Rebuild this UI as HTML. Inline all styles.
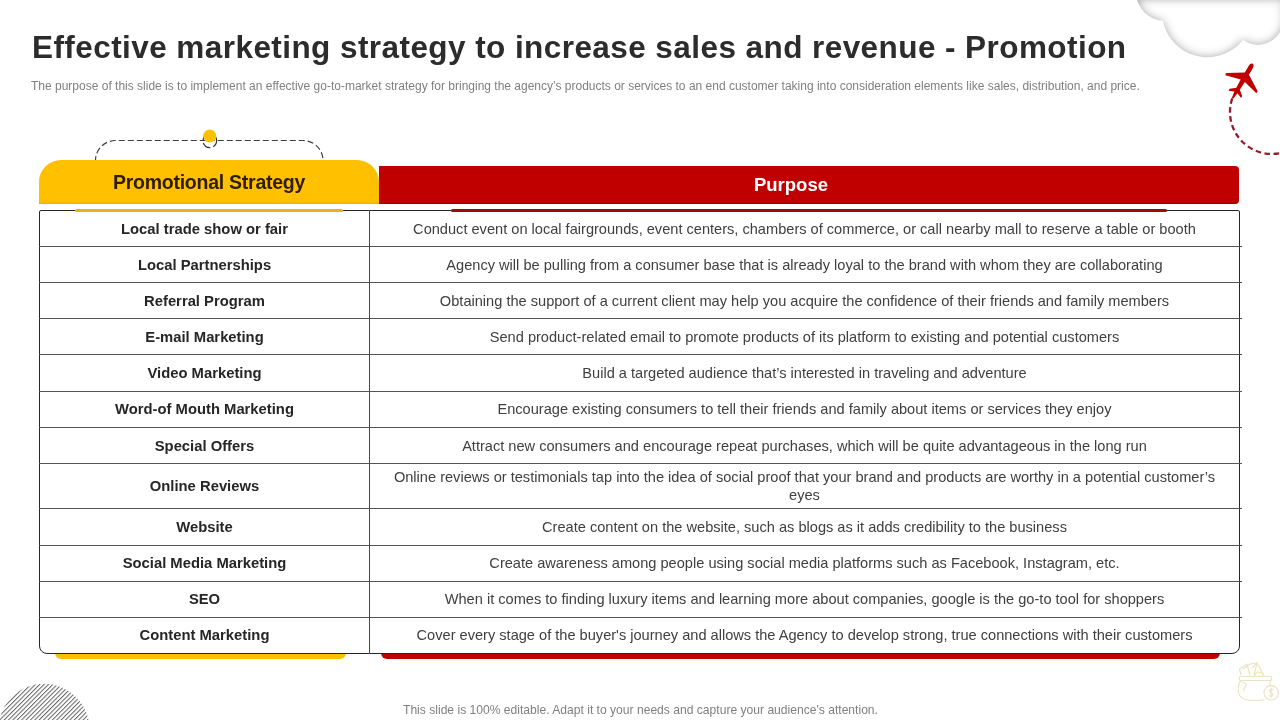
<!DOCTYPE html>
<html><head><meta charset="utf-8">
<style>
*{margin:0;padding:0;box-sizing:border-box}
html,body{width:1280px;height:720px;overflow:hidden;background:#fff}
body{position:relative;font-family:"Liberation Sans",sans-serif}
.c1,.c2,#title,#sub,#foot,#tabtxt,#redtxt{will-change:transform}
.abs{position:absolute}
#title{left:32px;top:28px;letter-spacing:0.43px;font-size:31.5px;font-weight:bold;color:#2c2c2c;white-space:nowrap;line-height:38px}
#sub{left:31px;top:79px;font-size:12px;color:#7f7f7f;white-space:nowrap;line-height:15px}
#foot{left:403px;top:703px;font-size:12.1px;color:#7f7f7f;white-space:nowrap;line-height:15px}
#tab{left:39px;top:160px;width:340px;height:44px;background:#ffc000;border-radius:22px 22px 0 0;box-shadow:inset 0 -1.5px 0 rgba(120,80,0,0.12)}
#tabtxt{left:39px;top:170px;width:340px;text-align:center;font-size:19.5px;letter-spacing:-0.25px;font-weight:bold;color:#2e1c04;line-height:24px}
#red{left:379px;top:166px;width:860px;height:38px;background:#c00000;border-radius:0 4px 4px 0;box-shadow:inset 0 -1.5px 0 rgba(60,0,0,0.2)}
#redtxt{left:379px;top:173px;width:824px;text-align:center;font-size:18.5px;font-weight:bold;color:#fff;line-height:24px}
#yl{left:75px;top:209px;width:268px;height:3px;background:#e6b422;border-radius:2px}
#rl{left:451px;top:209px;width:716px;height:3px;background:#9e0b0f;border-radius:2px}
#yb{left:55px;top:650px;width:291px;height:9px;background:#ffc000;border-radius:0 0 6px 6px}
#rb{left:381px;top:650px;width:839px;height:9px;background:#c00000;border-radius:0 0 6px 6px}
#tbl{left:39px;top:210px;width:1201px;height:444px;border:1px solid #262626;border-radius:2px 2px 8px 8px;background:#fff}
.hl{position:absolute;left:39px;width:1203px;height:1px;background:#555}
#vl{left:369px;top:210px;width:1px;height:444px;background:#4a4a4a}
.c1{position:absolute;left:40px;width:329px;text-align:center;font-size:14.8px;font-weight:bold;color:#262626;line-height:17px;margin-top:1px}
.c2{position:absolute;left:370px;width:869px;text-align:center;font-size:14.6px;color:#404040;line-height:18px;padding:0 18px}
</style></head><body>
<div id="title" class="abs">Effective marketing strategy to increase sales and revenue - Promotion</div>
<div id="sub" class="abs">The purpose of this slide is to implement an effective  go-to-market strategy for bringing the agency’s products or services to an end customer taking into consideration elements like sales, distribution, and price.</div>

<!-- cloud -->
<svg class="abs" style="left:1100px;top:0" width="180" height="70" viewBox="1100 0 180 70">
<defs>
<filter id="inner" x="-20%" y="-30%" width="140%" height="160%">
<feFlood flood-color="#959595" result="f"/>
<feComposite in="f" in2="SourceAlpha" operator="out" result="o"/>
<feGaussianBlur in="o" stdDeviation="5" result="b"/>
<feComposite in="b" in2="SourceAlpha" operator="in" result="s"/>
<feMerge><feMergeNode in="SourceGraphic"/><feMergeNode in="s"/></feMerge>
</filter>
</defs>
<clipPath id="cclip"><rect x="1100" y="-1" width="200" height="100"/></clipPath>
<g filter="url(#inner)"><g clip-path="url(#cclip)" fill="#fff">
<circle cx="1165" cy="-8" r="29"/>
<circle cx="1207.3" cy="12.2" r="45.1"/>
<ellipse cx="1258" cy="17" rx="26" ry="28"/>
<rect x="1160" y="-20" width="110" height="30"/>
<rect x="1268" y="-20" width="30" height="24"/>
</g></g>
</svg>

<!-- plane + dashed arc -->
<svg class="abs" style="left:1200px;top:50px" width="80" height="120" viewBox="0 0 80 120">
<path d="M33.3 45.6 A 42 42 0 0 0 80 103.2" fill="none" stroke="#9b1b2a" stroke-width="2.3" stroke-dasharray="5.5 3.5" stroke-dashoffset="6"/>
<g transform="translate(42.6,31) rotate(30.3)">
<path fill="#c00000" d="M0 -20 C 1.6 -20 2.4 -18 2.4 -15.5 L 2.4 -8.5 L 17.8 1 C 18.4 1.4 18.4 3.6 17.8 3.6 L 2.4 -0.3 L 2 9 L 7 13 C 7.5 13.4 7.5 15.4 7 15.4 L 1.8 13.2 L 0.9 19.5 C 0.5 20.3 -0.5 20.3 -0.9 19.5 L -1.8 13.2 L -7 15.4 C -7.5 15.4 -7.5 13.4 -7 13 L -2 9 L -2.4 -0.3 L -17.8 3.6 C -18.4 3.6 -18.4 1.4 -17.8 1 L -2.4 -8.5 L -2.4 -15.5 C -2.4 -18 -1.6 -20 0 -20 Z"/>
</g>
</svg>

<!-- dashed bracket above tab -->
<svg class="abs" style="left:80px;top:120px" width="260" height="45" viewBox="0 0 260 45">
<path d="M15.5 42 L15.5 40 A 20 20 0 0 1 35.5 20.5 L 223 20.5 A 20 20 0 0 1 243 40 L 243 42" fill="none" stroke="#404040" stroke-width="1.2" stroke-dasharray="6 3"/>
<circle cx="129.8" cy="20.8" r="6.8" fill="none" stroke="#333" stroke-width="1.2" stroke-dasharray="9 3" stroke-dashoffset="2"/>
<circle cx="129.7" cy="16" r="6.5" fill="#ffc000"/>
</svg>

<div id="tab" class="abs"></div>
<div id="red" class="abs"></div>
<div id="tabtxt" class="abs">Promotional Strategy</div>
<div id="redtxt" class="abs">Purpose</div>

<div id="yb" class="abs"></div>
<div id="rb" class="abs"></div>
<div id="tbl" class="abs"></div>
<div id="yl" class="abs"></div>
<div id="rl" class="abs"></div>

<div class="hl" style="top:246px"></div>
<div class="hl" style="top:282px"></div>
<div class="hl" style="top:318px"></div>
<div class="hl" style="top:354px"></div>
<div class="hl" style="top:391px"></div>
<div class="hl" style="top:427px"></div>
<div class="hl" style="top:463px"></div>
<div class="hl" style="top:508px"></div>
<div class="hl" style="top:545px"></div>
<div class="hl" style="top:581px"></div>
<div class="hl" style="top:617px"></div>
<div id="vl" class="abs"></div>

<div class="c1" style="top:220px">Local trade show or fair</div>
<div class="c2" style="top:220px">Conduct event on local fairgrounds, event centers, chambers of commerce, or call nearby mall to reserve a table or booth</div>
<div class="c1" style="top:256px">Local Partnerships</div>
<div class="c2" style="top:256px">Agency will be pulling from a consumer base that is already loyal to the brand with whom they are collaborating</div>
<div class="c1" style="top:292px">Referral Program</div>
<div class="c2" style="top:292px">Obtaining the support of a current client may help you acquire the confidence of their friends and family members</div>
<div class="c1" style="top:328px">E-mail Marketing</div>
<div class="c2" style="top:328px">Send product-related email to promote products of its platform to existing and potential customers</div>
<div class="c1" style="top:364px">Video Marketing</div>
<div class="c2" style="top:364px">Build a targeted audience that’s interested in traveling and adventure</div>
<div class="c1" style="top:400px">Word-of Mouth Marketing</div>
<div class="c2" style="top:400px">Encourage existing consumers to tell their friends and family about items or services they enjoy</div>
<div class="c1" style="top:437px">Special Offers</div>
<div class="c2" style="top:437px">Attract new consumers and encourage repeat purchases, which will be quite advantageous in the long run</div>
<div class="c1" style="top:477px">Online Reviews</div>
<div class="c2" style="top:468px">Online reviews or testimonials tap into the idea of social proof that your brand and products are worthy in a potential customer’s eyes</div>
<div class="c1" style="top:518px">Website</div>
<div class="c2" style="top:518px">Create content on the website, such as blogs as it adds credibility to the business</div>
<div class="c1" style="top:554px">Social Media Marketing</div>
<div class="c2" style="top:554px">Create awareness among people using social media platforms such as Facebook, Instagram, etc.</div>
<div class="c1" style="top:590px">SEO</div>
<div class="c2" style="top:590px">When it comes to finding luxury items and learning more about companies, google is the go-to tool for shoppers</div>
<div class="c1" style="top:626px">Content Marketing</div>
<div class="c2" style="top:626px">Cover every stage of the buyer's journey and allows the Agency to develop strong, true connections with their customers</div>

<!-- hatch circle -->
<svg class="abs" style="left:0;top:670px" width="100" height="50" viewBox="0 670 100 50">
<defs>
<pattern id="hatch" width="3.1" height="10" patternUnits="userSpaceOnUse" patternTransform="rotate(45)">
<rect x="0" y="0" width="1" height="10" fill="#646464"/>
</pattern>
<clipPath id="cc"><circle cx="44" cy="729.3" r="45.5"/></clipPath>
</defs>
<rect x="0" y="670" width="100" height="50" fill="url(#hatch)" clip-path="url(#cc)"/>
</svg>

<!-- money bag -->
<svg class="abs" style="left:1230px;top:655px" width="50" height="55" viewBox="0 0 50 55">
<g fill="none" stroke="#ebe2c0" stroke-width="1.1" stroke-linejoin="round" stroke-linecap="round">
<path d="M11 20 L 9.5 14 L 17 9 L 20 20"/>
<path d="M13 14 L 20 9 L 27 8 L 24 20"/>
<path d="M22 13 L 27 8 L 33 19"/>
<path d="M25 20 L 27 17 L 33 18 L 33 21"/>
<path d="M10 21.5 L 41 21.5 C 42 21.5 42 25.5 41 25.5 L 10 25.5 C 9 25.5 9 21.5 10 21.5 Z"/>
<path d="M11 25.5 C 7 30 8 38 10 41 C 12 44.5 16 45.5 24 45.5 L 34 45"/>
<path d="M40 25.5 C 40.5 28 40.5 29 40 31"/>
<path d="M12 27 C 15 28 17 29 16 31 C 14 33 13 34 14 36"/>
<circle cx="41.2" cy="37.8" r="7.2"/>
<path d="M43 35 C 41.5 33.8 39.3 34.5 39.6 36.2 C 40 37.8 43 37.6 43 39.6 C 43 41.4 40.5 41.6 39.2 40.6 M41.2 33 L41.2 42.5"/>
</g>
</svg>

<div id="foot" class="abs">This slide is 100% editable. Adapt it to your needs and capture your audience's attention.</div>
</body></html>
